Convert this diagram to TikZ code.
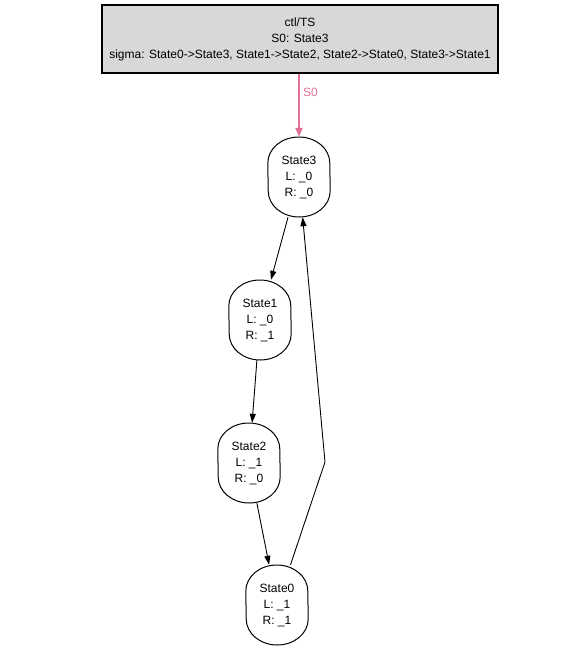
\documentclass[tikz,border=0pt]{standalone}
\usepackage{fontspec}
\setmainfont{Liberation Sans}
\usetikzlibrary{arrows.meta}
\definecolor{pinkedge}{RGB}{228,112,152}
\definecolor{boxgray}{RGB}{216,216,216}
\newcommand{\eggoutline}[1]{%
  \draw[line width=1pt] ([yshift=14pt]#1.west) arc[start angle=180, end angle=0, x radius=31pt, y radius=26pt]
    -- ([yshift=-14pt]#1.east) arc[start angle=0, end angle=-180, x radius=31pt, y radius=26pt] -- cycle;}
\begin{document}
\begin{tikzpicture}[x=1pt,y=-1pt,
  every node/.style={font=\fontsize{12}{16}\selectfont, align=center, inner sep=0pt},
  statebox/.style={rectangle, minimum width=62pt, minimum height=80pt},
  topbox/.style={draw, line width=1.1pt, fill=boxgray, minimum width=396pt, minimum height=68pt},
  edge/.style={draw, line width=0.9pt, -{Triangle[length=9pt,width=6pt]}},
  initedge/.style={draw=pinkedge, line width=2.4pt, -{Triangle[length=9pt,width=7pt]}}]
\useasboundingbox (0,0) rectangle (568,654);
\node[topbox] (ts) at (300,39) {ctl/TS\\S0: State3\\sigma: State0->State3, State1->State2, State2->State0, State3->State1};
\node[statebox] (s3) at (299,177) {State3\\L: \_0\\R: \_0};
\node[statebox] (s1) at (260,320) {State1\\L: \_0\\R: \_1};
\node[statebox] (s2) at (249,463) {State2\\L: \_1\\R: \_0};
\node[statebox] (s0) at (277,605) {State0\\L: \_1\\R: \_1};
\eggoutline{s3}
\eggoutline{s1}
\eggoutline{s2}
\eggoutline{s0}
\coordinate (bend) at (325,462);
\path[initedge] (ts.south -| s3) -- node[right=3pt, text=pinkedge, pos=0.3] (lbl) {S0} (s3);
\path[edge] (s3) -- (s1);
\path[edge] (s1) -- (s2);
\path[edge] (s2) -- (s0);
\path[edge] (s0) -- (bend) -- (s3);
\end{tikzpicture}
\end{document}
